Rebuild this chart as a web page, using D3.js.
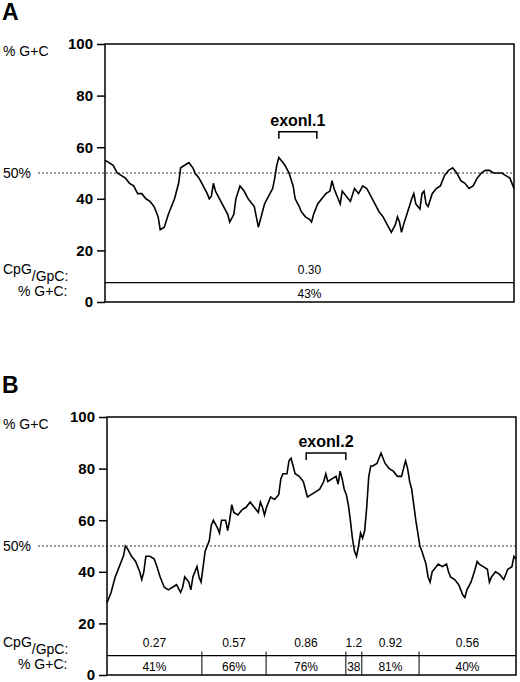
<!DOCTYPE html><html><head><meta charset="utf-8">
<script src="https://cdn.jsdelivr.net/npm/d3@7"></script>
<style>body{margin:0;background:#fff}svg{font-family:Arial,"Liberation Sans",sans-serif}</style></head><body>
<svg id="c" width="520" height="682"></svg>
<script>
const yTicks=[0,20,40,60,80,100];
const seqA_x=[0,2,3,5,6,7,8,9,10,11,12,13,13.5,14.5,15.5,17,18,18.5,19.5,20.5,21.5,22,23,24,25,25.5,26,26.5,27,28,29,30,30.5,31.5,32,33,34,35,36.5,37,37.5,38,39,40,41,41.5,42,42.5,43,44,45,46,46.5,47.5,48,49,50,50.5,51,52,53,54,55,55.5,56,57,57.5,58,59,60,61,62,63,64,65,66,67,68,69,70,71,71.5,72,72.5,73,74,75,75.5,76,77,77.5,78,78.5,79,80,81,82,83,84,85,86,87,88,89,90,91,92,93,94,95,96,97,98,99,100];
const seqA_gc=[55,53,50,48,46,45,42,42,40,39,37,33,28,29,34,40,46,52,53,54,52,50,48,45,42,40,41,46,43,40,37,34,31,34,40,45,43,40,37,33,29,32,38,41,44,48,53,56,55,53,50,45,40,37,35,33,32,31,34,38,40,42,43,47,44,40,38,43,41,39,44,42,45,44,41,38,35,33,30,27,30,33,31,27,30,35,40,42,38,36,42,43,38,37,42,44,45,49,51,52,50,47,46,44,45,48,50,51,51,50,50,50,49,48,44];
const seqB_x=[0,1,2,3,4,4.5,5,6,7,8,8.5,9,9.5,10.5,11.5,12,13,14,15,16,17,18,18.5,19,20,20.5,21,22,22.5,23,23.5,24,25,25.5,26,27,27.5,28,29,29.5,30,30.5,31,32,33,34,35,36,37,37.5,38,38.5,39,40,41,42,42.5,43,44,44.5,45,45.5,46,47,48,48.5,49,50,51,52,53,53.5,54,55,56,56.5,57,57.5,58,58.5,59,59.5,60,60.5,61,61.5,62,62.5,63,63.5,64,64.5,65,66,66.5,67,68,69,70,71,72,72.5,73,73.5,74,74.5,75,75.5,76,76.5,77,78,78.5,79,79.5,80,81,82,83,83.5,84,85,86,86.5,87,87.5,88,89,90,90.5,91,92,93,93.5,94,95,96,97,98,99,99.5,100];
const seqB_gc=[28,32,38,42,46,50,49,46,44,40,37,40,46,46,45,43,38,34,33,34,35,32,34,38,36,33,38,42,38,36,42,48,52,58,60,57,55,60,60,56,60,66,63,62,64,65,67,65,63,67,65,62,65,69,68,70,76,78,78,83,84,81,78,77,75,72,69,70,71,72,75,78,75,76,77,74,79,76,72,70,66,60,53,48,46,50,55,53,56,65,77,81,81,82,84,86,82,80,79,77,77,80,83,80,75,72,66,60,55,50,48,43,38,36,40,41,43,42,43,40,38,37,35,33,31,30,33,36,41,44,43,42,41,36,38,40,39,37,41,42,46,45];
const segA_bounds=[0,100], segA_cpg=["0.30"], segA_gc=["43%"];
const segB_bounds=[0,23.2,38.9,58.4,62.3,76.3,100];
const segB_cpg=["0.27","0.57","0.86","1.2","0.92","0.56"];
const segB_gc=["41%","66%","76%","38","81%","40%"];
const exonA={label:"exonI.1",from:42.5,to:51.8,gc:66};
const exonB={label:"exonI.2",from:48.7,to:58.4,gc:86};

const svg=d3.select("#c");
function panel(letter,top,left,xs,ys,bounds,cpg,gcs,exon){
  const H=258,W=409,right=left+W;
  const x=d3.scaleLinear().domain([0,100]).range([left,right]);
  const y=d3.scaleLinear().domain([0,100]).range([top+H,top]);
  const g=svg.append("g");
  g.append("text").attr("x",2).attr("y",top-24).attr("font-size",23).attr("font-weight","bold").text(letter);
  g.append("text").attr("x",3).attr("y",top+12).attr("font-size",14).text("% G+C");
  const ax=g.append("g").attr("transform",`translate(${left},0)`).call(d3.axisLeft(y).tickValues(yTicks).tickSize(8).tickPadding(4));
  ax.select(".domain").remove();
  ax.selectAll("line").attr("stroke","#000").attr("stroke-width",1.5);
  ax.selectAll("text").attr("font-size",15).attr("font-weight","bold").attr("font-family","Arial,'Liberation Sans',sans-serif");
  g.append("rect").attr("x",left).attr("y",top).attr("width",W).attr("height",H).attr("fill","none").attr("stroke","#000").attr("stroke-width",1.5);
  g.append("line").attr("x1",38).attr("x2",right).attr("y1",y(50)).attr("y2",y(50)).attr("stroke","#000").attr("stroke-width",0.8).attr("stroke-dasharray","2,2");
  g.append("text").attr("x",3).attr("y",y(50)+5).attr("font-size",14).text("50%");
  const line=d3.line().x((d,i)=>x(xs[i])).y(d=>y(d));
  g.append("path").attr("d",line(ys)).attr("fill","none").attr("stroke","#000").attr("stroke-width",1.6).attr("stroke-linejoin","miter");
  const by=y(7.5);
  g.append("line").attr("x1",left).attr("x2",right).attr("y1",by).attr("y2",by).attr("stroke","#000").attr("stroke-width",1.2);
  bounds.slice(1,-1).forEach(b=>g.append("line").attr("x1",x(b)).attr("x2",x(b)).attr("y1",by-4).attr("y2",top+H).attr("stroke","#000").attr("stroke-width",1));
  cpg.forEach((t,i)=>{const cx=(x(bounds[i])+x(bounds[i+1]))/2;
    g.append("text").attr("x",cx).attr("y",by-9).attr("text-anchor","middle").attr("font-size",12).text(t);
    g.append("text").attr("x",cx).attr("y",top+H-4).attr("text-anchor","middle").attr("font-size",12).text(gcs[i]);});
  const cl=g.append("text").attr("x",3).attr("y",by-9).attr("font-size",14);
  cl.append("tspan").text("CpG");cl.append("tspan").attr("dy",7).text("/GpC:");
  g.append("text").attr("x",18).attr("y",top+H-6).attr("font-size",14).text("% G+C:");
  const ey=y(exon.gc);
  g.append("path").attr("d",`M${x(exon.from)},${ey+7}V${ey}H${x(exon.to)}V${ey+7}`).attr("fill","none").attr("stroke","#000").attr("stroke-width",1.5);
  g.append("text").attr("x",(x(exon.from)+x(exon.to))/2).attr("y",ey-6).attr("text-anchor","middle").attr("font-size",16).attr("font-weight","bold").text(exon.label);
}
panel("A",44,105,seqA_x,seqA_gc,segA_bounds,segA_cpg,segA_gc,exonA);
panel("B",417,107,seqB_x,seqB_gc,segB_bounds,segB_cpg,segB_gc,exonB);
</script></body></html>
